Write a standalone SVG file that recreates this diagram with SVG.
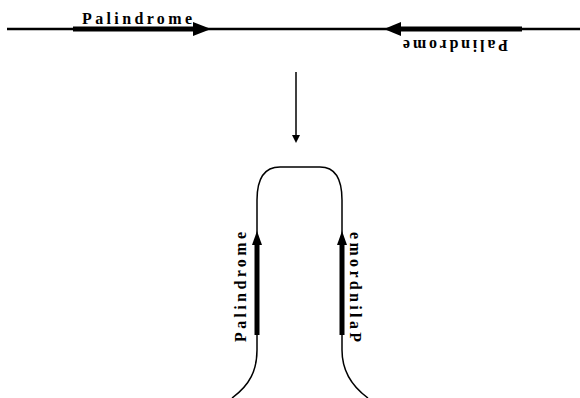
<svg xmlns="http://www.w3.org/2000/svg" width="580" height="398" viewBox="0 0 580 398">
<style>
.lbl{font-family:"Liberation Serif",serif;font-weight:bold;font-size:16px;fill:#000}
.thin{stroke:#000;stroke-width:2.5;fill:none}
.hair{stroke:#000;stroke-width:1.5;fill:none}
.thick{stroke:#000;stroke-width:5;fill:none}
</style>
<g id="top-strand">
<line class="thin" x1="7" y1="29" x2="580" y2="29"/>
</g>
<g id="connectors">
<line class="thick" x1="73" y1="29" x2="196" y2="29"/>
<path d="M193,22 L211,29 L193,36 Z" fill="#000"/>
<line class="thick" x1="522" y1="29" x2="398" y2="29"/>
<path d="M401,22 L384,29 L401,36 Z" fill="#000"/>
<line stroke="#000" stroke-width="1.5" x1="296" y1="72" x2="296" y2="136"/>
<path d="M292,135 L296,143 L300,135 Z" fill="#000"/>
<line class="thick" x1="257" y1="335" x2="257" y2="242"/>
<path d="M252,245 L257,231 L262,245 Z" fill="#000"/>
<line class="thick" x1="342" y1="335" x2="342" y2="242"/>
<path d="M337,245 L342,231 L347,245 Z" fill="#000"/>
</g>
<g id="hairpin">
<path class="hair" d="M232,398 C250,385 257,370 257,350 L257,200 C257,178 265,167 280,167 L320,167 C335,167 342,178 342,200 L342,350 C342,370 350,385 368,398"/>
</g>
<g id="label-top-left">
<text class="lbl" x="82" y="24" textLength="110" lengthAdjust="spacing">Palindrome</text>
</g>
<g id="label-top-right">
<text class="lbl" transform="translate(508,40) rotate(180)" x="0" y="0" textLength="105" lengthAdjust="spacing">Palindrome</text>
</g>
<g id="label-left">
<text class="lbl" transform="translate(246,342) rotate(-90)" x="0" y="0" textLength="110" lengthAdjust="spacing">Palindrome</text>
</g>
<g id="label-right">
<text class="lbl" transform="translate(350,232) rotate(90)" x="0" y="0" textLength="110" lengthAdjust="spacing">emordnilaP</text>
</g>
</svg>
